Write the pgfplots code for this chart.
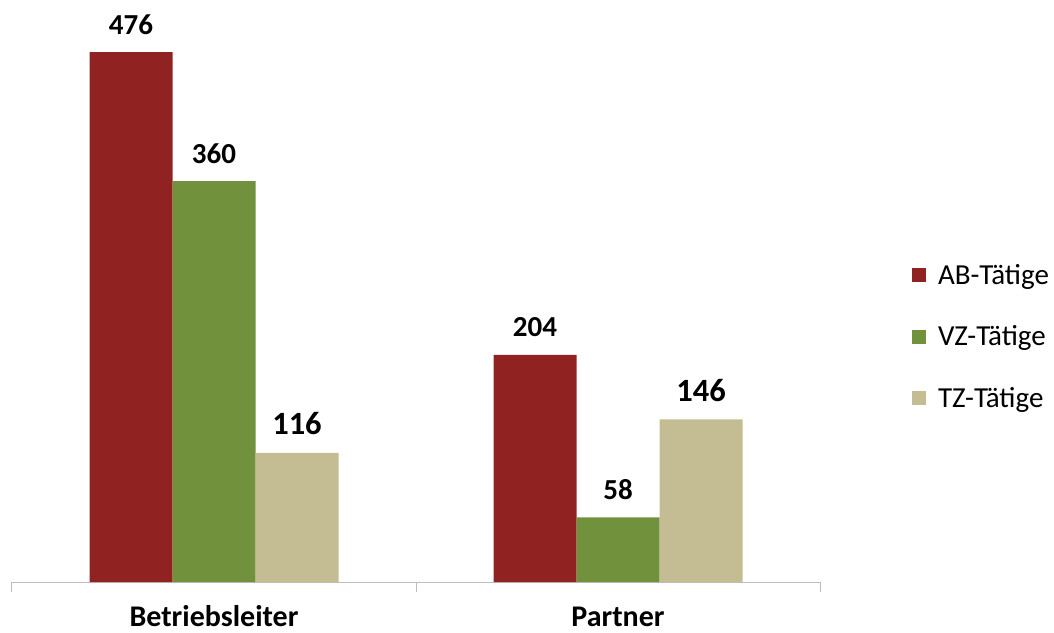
\documentclass[border=0pt]{standalone}
\usepackage{fontspec}
\setmainfont{Carlito}
\usepackage{pgfplots}
\pgfplotsset{compat=1.18}

\definecolor{abred}{RGB}{145,34,34}
\definecolor{vzgreen}{RGB}{113,145,60}
\definecolor{tztan}{RGB}{196,188,146}
\definecolor{axisgray}{RGB}{190,190,190}

\begin{document}
\begin{tikzpicture}
\useasboundingbox (-12pt,-50pt) rectangle (1042pt,582pt);
\begin{axis}[
    at={(0pt,0pt)}, anchor=south west,
    scale only axis,
    width=808pt, height=556.7pt,
    xmin=-0.5, xmax=1.5,
    ymin=0, ymax=500,
    clip=false,
    /pgf/number format/assume math mode=true,
    axis x line*=bottom,
    axis y line=none,
    axis line style={draw=axisgray, line width=1pt},
    xtick={0,1},
    xticklabels={Betriebsleiter,Partner},
    major x tick style={draw=none},
    minor xtick={-0.5,0.5,1.5},
    minor x tick style={draw=axisgray, line width=1pt},
    minor tick length=10pt,
    major tick length=0pt,
    tick align=outside,
    xticklabel style={font=\fontsize{30}{34}\selectfont\bfseries, anchor=base, yshift=-44pt},
    ybar=0pt,
    bar width=83pt,
    nodes near coords,
    nodes near coords style={anchor=base, yshift=18pt, font=\fontsize{29}{33}\selectfont\bfseries},
    legend style={
        at={(1.1139,0.4407)}, anchor=west,
        draw=none, fill=none, inner sep=0pt, outer sep=0pt,
        row sep=43.5pt, column sep=12pt,
        font=\fontsize{29}{33}\selectfont,
        nodes={inner sep=0pt, text height=18pt, text depth=0pt},
    },
    legend cell align=left,
    legend image code/.code={\fill[#1, draw=none] (0pt,-7pt) rectangle (14pt,7pt);},
]
\addplot[fill=abred, draw=none] coordinates {(0,476) (1,204)};
\addlegendentry{AB-Tätige}
\addplot[fill=vzgreen, draw=none] coordinates {(0,360) (1,58)};
\addlegendentry{VZ-Tätige}
\addplot[fill=tztan, draw=none, every node near coord/.append style={font=\fontsize{32.5}{36}\selectfont\bfseries}] coordinates {(0,116) (1,146)};
\addlegendentry{TZ-Tätige}
\end{axis}
\end{tikzpicture}
\end{document}
